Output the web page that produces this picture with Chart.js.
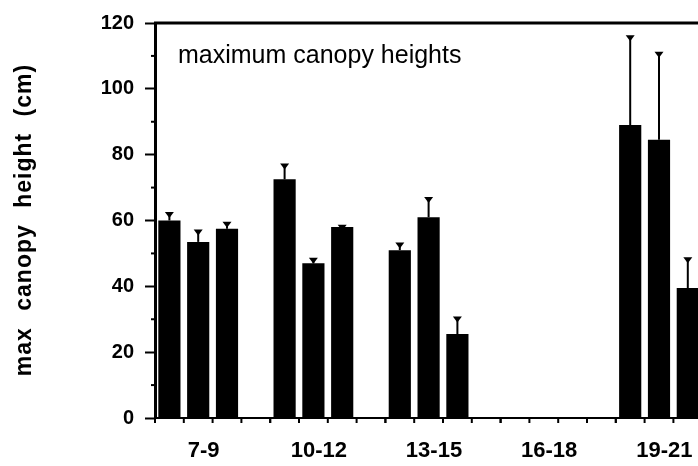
<!DOCTYPE html>
<html>
<head>
<meta charset="utf-8">
<script src="https://cdn.jsdelivr.net/npm/chart.js@4"></script>
<style>
  html, body { margin: 0; padding: 0; background: #fff; overflow: hidden; }
  #wrap { width: 740px; height: 466px; }
</style>
</head>
<body>
<div id="wrap"><canvas id="chart"></canvas></div>
<script>
// age groups (x categories)
const groups = ['7-9', '10-12', '13-15', '16-18', '19-21'];
// three bars per group, max canopy height (cm)
const bar1 = [60, 72.5, 51, null, 89];
const bar2 = [53.5, 47, 61, null, 84.5];
const bar3 = [57.5, 58, 25.5, null, 39.5];
// upper error bar lengths (cm)
const err1 = [2.3, 4.5, 2, null, 27];
const err2 = [3.5, 1.4, 5.8, null, 26.5];
const err3 = [1.8, 0.4, 5, null, 9];
const spacer = [null, null, null, null, null];
const yTicks = [0, 20, 40, 60, 80, 100, 120];
const yMinor = [10, 30, 50, 70, 90, 110];
const yTitle = 'max canopy height (cm)';
const innerTitle = 'maximum canopy heights';

const ink = '#000';
const fontFam = '"Liberation Sans", Arial, sans-serif';

const frame = {
  id: 'frame',
  afterDatasetsDraw(chart) {
    const { ctx, chartArea: a, scales: { x, y } } = chart;
    ctx.save();
    ctx.strokeStyle = ink;
    ctx.fillStyle = ink;

    // error bars, upper only
    const errs = [err1, err2, err3];
    errs.forEach((err, i) => {
      const meta = chart.getDatasetMeta(i);
      const vals = chart.data.datasets[i].data;
      meta.data.forEach((bar, j) => {
        if (vals[j] == null || err[j] == null) return;
        const top = y.getPixelForValue(vals[j] + err[j]);
        ctx.lineWidth = 2;
        ctx.beginPath();
        ctx.moveTo(bar.x, bar.y);
        ctx.lineTo(bar.x, top);
        ctx.stroke();
        ctx.beginPath();
        ctx.moveTo(bar.x - 4.5, top - 1);
        ctx.lineTo(bar.x + 4.5, top - 1);
        ctx.lineTo(bar.x, top + 5);
        ctx.closePath();
        ctx.fill();
      });
    });

    // top frame line
    ctx.lineWidth = 3;
    ctx.beginPath();
    ctx.moveTo(a.left - 1, a.top);
    ctx.lineTo(a.right + 20, a.top);
    ctx.stroke();

    // minor y ticks
    ctx.lineWidth = 2;
    yMinor.forEach(v => {
      const py = y.getPixelForValue(v);
      ctx.beginPath();
      ctx.moveTo(a.left - 4, py);
      ctx.lineTo(a.left, py);
      ctx.stroke();
    });

    // x ticks: one per bar slot
    const w = x.getPixelForValue(1) - x.getPixelForValue(0);
    groups.forEach((g, i) => {
      const start = x.getPixelForValue(i) - w / 2;
      for (let k = 0; k <= 4; k++) {
        const px = start + k * w / 4;
        ctx.beginPath();
        ctx.moveTo(px, a.bottom);
        ctx.lineTo(px, a.bottom + 5);
        ctx.stroke();
      }
    });

    // inner title
    ctx.font = '25px ' + fontFam;
    ctx.textBaseline = 'alphabetic';
    ctx.fillText(innerTitle, a.left + 23, 63);

    // y axis title
    ctx.translate(25, 220);
    ctx.rotate(-Math.PI / 2);
    ctx.font = 'bold 23px ' + fontFam;
    ctx.textAlign = 'center';
    ctx.textBaseline = 'middle';
    ctx.letterSpacing = '1px';
    ctx.wordSpacing = '9px';
    ctx.fillText(yTitle, 0, 0);
    ctx.restore();
  }
};

new Chart(document.getElementById('chart'), {
  type: 'bar',
  data: {
    labels: groups,
    datasets: [
      { data: bar1, backgroundColor: ink },
      { data: bar2, backgroundColor: ink },
      { data: bar3, backgroundColor: ink },
      { data: spacer, backgroundColor: 'rgba(0,0,0,0)' }
    ]
  },
  options: {
    responsive: true,
    maintainAspectRatio: false,
    animation: false,
    layout: { padding: { left: 0, right: 9, top: 21, bottom: 0 } },
    datasets: { bar: { categoryPercentage: 1, barPercentage: 0.77 } },
    plugins: { legend: { display: false }, tooltip: { enabled: false } },
    scales: {
      x: {
        afterFit(scale) { scale.height = 48; },
        grid: { display: false, drawTicks: false },
        border: { display: true, color: ink, width: 2 },
        ticks: {
          color: ink, labelOffset: -9, padding: 20,
          font: { family: fontFam, size: 22, weight: 'bold' }
        }
      },
      y: {
        min: 0, max: 120,
        afterBuildTicks(scale) { scale.ticks = yTicks.map(v => ({ value: v })); },
        afterFit(scale) { scale.width = 155; },
        grid: { drawOnChartArea: false, color: ink, tickLength: 10, tickWidth: 2 },
        border: { display: true, color: ink, width: 3 },
        ticks: {
          color: ink, padding: 11,
          font: { family: fontFam, size: 20, weight: 'bold' }
        }
      }
    }
  },
  plugins: [frame]
});
</script>
</body>
</html>
